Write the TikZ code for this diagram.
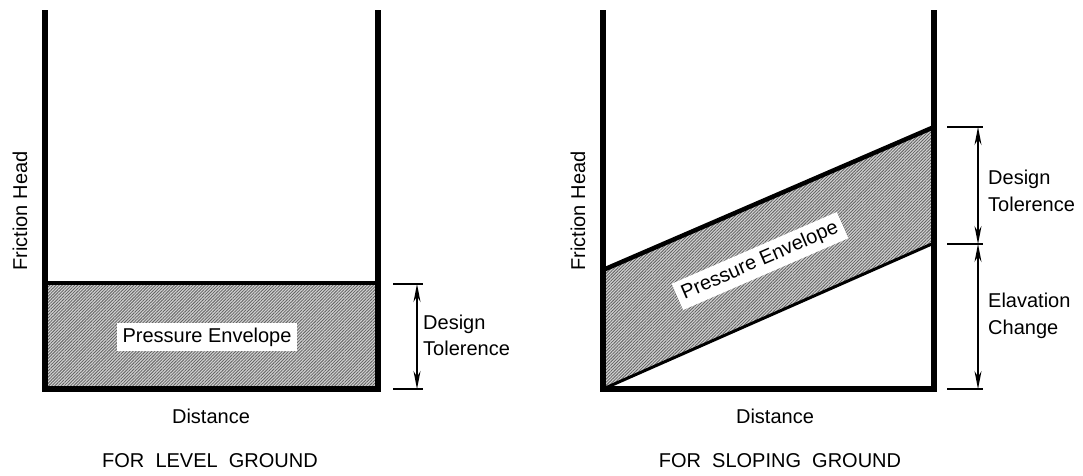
\documentclass[tikz,border=0pt]{standalone}
\usepackage{fontspec}
\setmainfont{Liberation Sans}
\usetikzlibrary{arrows.meta,patterns.meta}
\begin{document}
\begin{tikzpicture}[x=1pt,y=-1pt,line join=miter,
  wall/.style={line width=6pt},
  edgethick/.style={line width=4.5pt},
  edgethin/.style={line width=3pt},
  env/.style={preaction={fill=black!18},pattern={Lines[angle=45,distance=2.2pt,line width=0.8pt]},pattern color=black!62},
  lbl/.style={font=\fontsize{20}{24}\selectfont,inner sep=0pt},
  tag/.style={font=\fontsize{20}{24}\selectfont,fill=white,inner xsep=5.5pt,inner ysep=5pt},
  dimline/.style={line width=1.1pt,{Stealth[length=18pt,width=7pt]}-{Stealth[length=18pt,width=7pt]}},
  tickline/.style={line width=1.2pt}]
\useasboundingbox (0,0) rectangle (1083,475);
% ---------- left diagram ----------
\coordinate (Ltl) at (45,10);
\coordinate (Lbl) at (45,389);
\coordinate (Lbr) at (378,389);
\coordinate (Ltr) at (378,10);
\coordinate (Lel) at (45,283);
\coordinate (Ler) at (378,283);
\fill[env] (Lel) -- (Ler) -- (Lbr) -- (Lbl) -- cycle;
\draw[edgethick] (Lel) -- (Ler);
\draw[wall] (Ltl) -- (Lbl) -- (Lbr) -- (Ltr);
\node[tag] (Lpe) at (207,337) {Pressure Envelope};
\node[lbl,rotate=90] (Lfh) at (20,211) {Friction Head};
\node[lbl,anchor=base] (Ldist) at (211,423) {Distance};
\node[lbl,anchor=base] (Lcap) at (210,467) {FOR\ \ LEVEL\ \ GROUND};
% dimension
\coordinate (Lt1a) at (393,284); \coordinate (Lt1b) at (423,284);
\coordinate (Lt2a) at (393,389); \coordinate (Lt2b) at (423,389);
\coordinate (Ld1) at (417,284); \coordinate (Ld2) at (417,389);
\draw[tickline] (Lt1a) -- (Lt1b);
\draw[tickline] (Lt2a) -- (Lt2b);
\draw[dimline] (Ld1) -- (Ld2);
\node[lbl,anchor=base west] (Ldes) at (423,329) {Design};
\node[lbl,anchor=base west] (Ltol) at (423,355) {Tolerence};
% ---------- right diagram ----------
\coordinate (Rtl) at (603,10);
\coordinate (Rbl) at (603,389);
\coordinate (Rbr) at (934,389);
\coordinate (Rtr) at (934,10);
\coordinate (Rul) at (603,270);
\coordinate (Rur) at (934,127);
\coordinate (Rlr) at (934,243);
\fill[env] (Rul) -- (Rur) -- (Rlr) -- (Rbl) -- cycle;
\draw[edgethick] (Rul) -- (Rur);
\draw[edgethin] (Rbl) -- (Rlr);
\draw[wall] (Rtl) -- (Rbl) -- (Rbr) -- (Rtr);
\node[tag,rotate=23.5] (Rpe) at (760,261) {Pressure Envelope};
\node[lbl,rotate=90] (Rfh) at (578,211) {Friction Head};
\node[lbl,anchor=base] (Rdist) at (775,423) {Distance};
\node[lbl,anchor=base] (Rcap) at (780,467) {FOR\ \ SLOPING\ \ GROUND};
% dimensions
\coordinate (Rt1a) at (947,127); \coordinate (Rt1b) at (983,127);
\coordinate (Rt2a) at (947,244); \coordinate (Rt2b) at (983,244);
\coordinate (Rt3a) at (947,389); \coordinate (Rt3b) at (983,389);
\coordinate (Rd1) at (978,127); \coordinate (Rd2) at (978,244); \coordinate (Rd3) at (978,389);
\draw[tickline] (Rt1a) -- (Rt1b);
\draw[tickline] (Rt2a) -- (Rt2b);
\draw[tickline] (Rt3a) -- (Rt3b);
\draw[dimline] (Rd1) -- (Rd2);
\draw[dimline] (Rd2) -- (Rd3);
\node[lbl,anchor=base west] (Rdes) at (988,184) {Design};
\node[lbl,anchor=base west] (Rtol) at (988,211) {Tolerence};
\node[lbl,anchor=base west] (Relv) at (988,307) {Elavation};
\node[lbl,anchor=base west] (Rchg) at (988,334) {Change};
\end{tikzpicture}
\end{document}
